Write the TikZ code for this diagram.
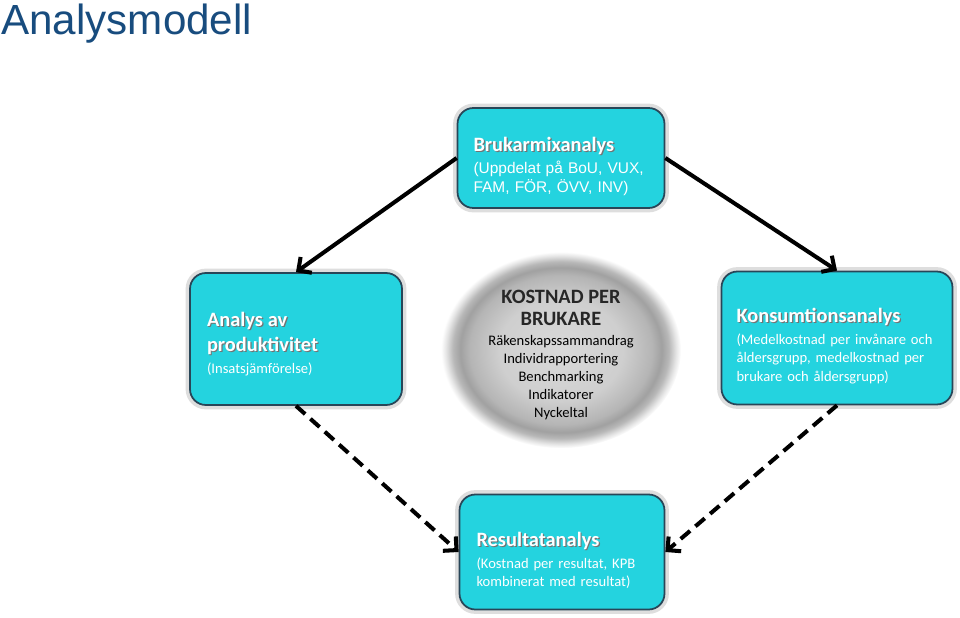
\documentclass[tikz,border=0pt]{standalone}
\usepackage{fontspec}
\setmainfont{Carlito}
\newfontfamily\arialfont{Liberation Sans}
\usepackage{tikz}
\usetikzlibrary{shapes.geometric, arrows.meta, positioning}
\definecolor{rutacyan}{RGB}{36,211,223}
\definecolor{rutakant}{RGB}{40,70,88}
\definecolor{titelbla}{RGB}{24,76,126}
\tikzstyle{analysbox} = [rectangle, rounded corners=9pt, draw=rutakant, line width=1pt, fill=rutacyan, text=white, align=left, inner ysep=4pt, preaction={draw=black!13, line width=5pt}]
\tikzstyle{arrow} = [draw, -{Straight Barb[length=5.5pt, width=11pt]}, line width=2.3pt]
\tikzstyle{dashedarrow} = [arrow, dash pattern=on 7pt off 4pt]
\pgfdeclareradialshading{kostnadskugga}{\pgfpoint{0bp}{0bp}}{color(0bp)=(black!15); color(13bp)=(black!19); color(19bp)=(black!29); color(21bp)=(black!37); color(22.5bp)=(black!28); color(24bp)=(black!10); color(25bp)=(white); color(50bp)=(white)}
\newcommand{\skuggtext}[1]{\makebox[0pt][l]{\kern0.7pt\raisebox{-0.7pt}{\textcolor{black!55}{#1}}}#1}
\newcommand{\rubrikfont}{\fontsize{11.6}{13.5}\selectfont\bfseries}
\newcommand{\underfont}{\fontsize{8.3}{10.5}\selectfont}
\newcommand{\ned}[1]{\rule{0pt}{#1}}

\begin{document}
\begin{tikzpicture}[x=0.02cm, y=-0.02cm]
	\useasboundingbox (0,0) rectangle (960,618);
	
		% Rubrik
		\node[anchor=north west, inner sep=0pt, text=titelbla, font=\arialfont\fontsize{24}{28}\selectfont] (titel) at (1,4) {Analysmodell};
		
		% Brukarmixanalys (överst)
		\node[analysbox, text width=3.5cm, inner xsep=0.32cm, minimum height=2cm, font=\arialfont\fontsize{8.8}{10.8}\selectfont] (brukarmix) at (561,158)
			{\ned{17.5pt}{\rmfamily\rubrikfont\skuggtext{Brukarmixanalys}}\\[1.5pt]
			 (Uppdelat på BoU, VUX,\\FAM, FÖR, ÖVV, INV)};
		
		% Analys av produktivitet (vänster)
		\node[analysbox, text width=3.56cm, inner xsep=0.34cm, minimum height=2.64cm, font=\underfont] (produktivitet) at (296,339)
			{\ned{14pt}{\rubrikfont\skuggtext{Analys av}}\\[2.5pt]{\rubrikfont\skuggtext{produktivitet}}\\[2.5pt]
			 (Insatsjämförelse)};
		
		% Kostnad per brukare (mitten)
		\node[ellipse, minimum width=4.8cm, minimum height=3.4cm, inner sep=0pt, shading=kostnadskugga, align=center, font=\fontsize{8.3}{10.2}\selectfont] (kostnad) at (561,350)
			{\ned{13pt}{\rubrikfont\color{black!85}KOSTNAD PER}\\[2.5pt]{\rubrikfont\color{black!85}BRUKARE}\\[1pt]
			 Räkenskapssammandrag\\Individrapportering\\Benchmarking\\Indikatorer\\Nyckeltal};
		
		% Konsumtionsanalys (höger)
		\node[analysbox, text width=4.02cm, inner xsep=0.3cm, minimum height=2.66cm, font=\underfont] (konsumtion) at (837,338)
			{\ned{17pt}{\rubrikfont\skuggtext{Konsumtionsanalys}}\\[2pt]
			 (Medelkostnad per invånare och\\åldersgrupp, medelkostnad per\\brukare och åldersgrupp)};
		
		% Resultatanalys (nederst)
		\node[analysbox, text width=3.42cm, inner xsep=0.34cm, minimum height=2.3cm, font=\underfont] (resultat) at (562,552)
			{\ned{17.5pt}{\rubrikfont\skuggtext{Resultatanalys}}\\[2pt]
			 (Kostnad per resultat, KPB\\kombinerat med resultat)};
		
		% Pilar
		\draw[arrow] (brukarmix.west) -- (produktivitet.north);
		\draw[arrow] (brukarmix.east) -- (konsumtion.north);
		\draw[dashedarrow] (produktivitet.south) -- (resultat.west);
		\draw[dashedarrow] (konsumtion.south) -- (resultat.east);
	\end{tikzpicture}
\end{document}
